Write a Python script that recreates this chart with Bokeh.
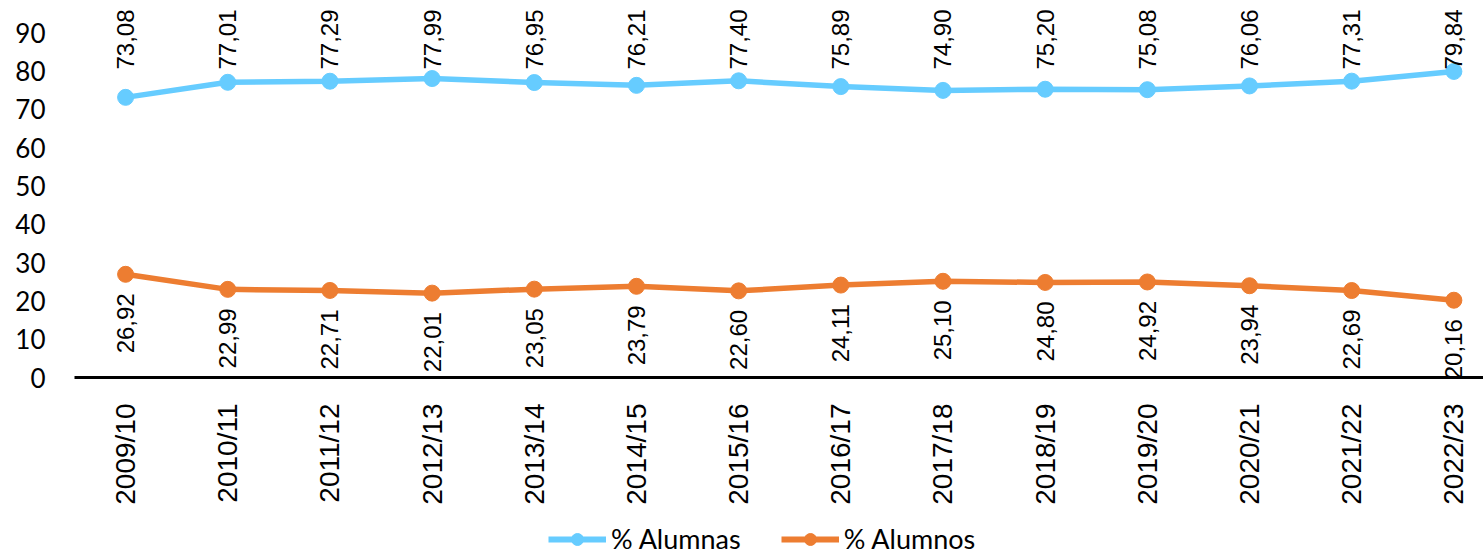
from bokeh.plotting import figure
from bokeh.models import ColumnDataSource, Range1d, FixedTicker, Legend, LegendItem
from bokeh.layouts import column
from bokeh.core.properties import value
from bokeh.embed import file_html
from bokeh.resources import INLINE
import math

cursos = ["2009/10", "2010/11", "2011/12", "2012/13", "2013/14", "2014/15", "2015/16",
          "2016/17", "2017/18", "2018/19", "2019/20", "2020/21", "2021/22", "2022/23"]
alumnas = [73.08, 77.01, 77.29, 77.99, 76.95, 76.21, 77.40, 75.89, 74.90, 75.20, 75.08, 76.06, 77.31, 79.84]
alumnos = [26.92, 22.99, 22.71, 22.01, 23.05, 23.79, 22.60, 24.11, 25.10, 24.80, 24.92, 23.94, 22.69, 20.16]
y_ticks = [0, 10, 20, 30, 40, 50, 60, 70, 80, 90]
series_names = ["% Alumnas", "% Alumnos"]

BLUE = "#66CCFF"
ORANGE = "#ED7D31"
Y_END = 98.35

def fmt(v):
    return f"{v:.2f}".replace(".", ",")

idx = list(range(len(cursos)))
src = ColumnDataSource(dict(
    x=idx, a=alumnas, o=alumnos,
    la=[fmt(v) for v in alumnas], lo=[fmt(v) for v in alumnos],
    top=[Y_END] * len(idx),
))

p = figure(width=1483, height=520, output_backend="svg", toolbar_location=None,
           x_range=Range1d(-0.5, 13.29), y_range=Range1d(0, Y_END),
           min_border_left=74, min_border_right=0, min_border_top=0, min_border_bottom=143)
p.outline_line_color = None
p.grid.grid_line_color = None

p.line("x", "a", source=src, line_color=BLUE, line_width=5.5)
p.scatter("x", "a", source=src, size=16, fill_color=BLUE, line_color=BLUE)
p.line("x", "o", source=src, line_color=ORANGE, line_width=5.5)
p.scatter("x", "o", source=src, size=16, fill_color=ORANGE, line_color=ORANGE)

p.text("x", "top", text="la", source=src, angle=math.pi / 2, text_align="right",
       text_baseline="middle", y_offset=9, text_font=value("Liberation Sans"),
       text_font_size="24px", text_color="black")
p.text("x", "o", text="lo", source=src, angle=math.pi / 2, text_align="right",
       text_baseline="middle", y_offset=19, text_font=value("Liberation Sans"),
       text_font_size="24px", text_color="black")

xa = p.xaxis[0]
xa.ticker = FixedTicker(ticks=idx)
xa.major_label_overrides = {i: c for i, c in zip(idx, cursos)}
xa.major_label_orientation = math.pi / 2
xa.major_label_text_font = "Liberation Sans"
xa.major_label_text_font_size = "28px"
xa.major_label_text_color = "black"
xa.major_label_standoff = 20
xa.major_tick_line_color = None
xa.minor_tick_line_color = None
xa.axis_line_color = "black"
xa.axis_line_width = 3

ya = p.yaxis[0]
ya.ticker = FixedTicker(ticks=y_ticks)
ya.major_label_text_font = "Lato"
ya.major_label_text_font_size = "26px"
ya.major_label_text_color = "black"
ya.major_label_standoff = 23
ya.axis_line_color = None
ya.major_tick_line_color = None
ya.minor_tick_line_color = None

# legend strip (series drawn outside its visible range, only legend glyphs show)
lf = figure(width=1483, height=35, output_backend="svg", toolbar_location=None,
            x_range=Range1d(-0.5, 13.29), y_range=Range1d(200, 201),
            x_axis_location=None, y_axis_location=None,
            min_border_left=74, min_border_right=0, min_border_top=0, min_border_bottom=0)
lf.outline_line_color = None
lf.grid.grid_line_color = None
r1l = lf.line("x", "a", source=src, line_color=BLUE, line_width=6)
r1s = lf.scatter("x", "a", source=src, size=16, fill_color=BLUE, line_color=BLUE)
r2l = lf.line("x", "o", source=src, line_color=ORANGE, line_width=6)
r2s = lf.scatter("x", "o", source=src, size=16, fill_color=ORANGE, line_color=ORANGE)
legend = Legend(items=[LegendItem(label=series_names[0], renderers=[r1l, r1s]),
                       LegendItem(label=series_names[1], renderers=[r2l, r2s])],
                orientation="horizontal", location=(474, 0),
                label_text_font="Lato", label_text_font_size="27px",
                label_text_color="black", label_text_baseline="middle",
                glyph_width=58, glyph_height=30, label_height=30, spacing=40, label_standoff=5,
                padding=2, margin=0, border_line_color=None, background_fill_alpha=0)
lf.add_layout(legend, "center")

open("out.html", "w").write(file_html(column(p, lf, spacing=0), INLINE))
